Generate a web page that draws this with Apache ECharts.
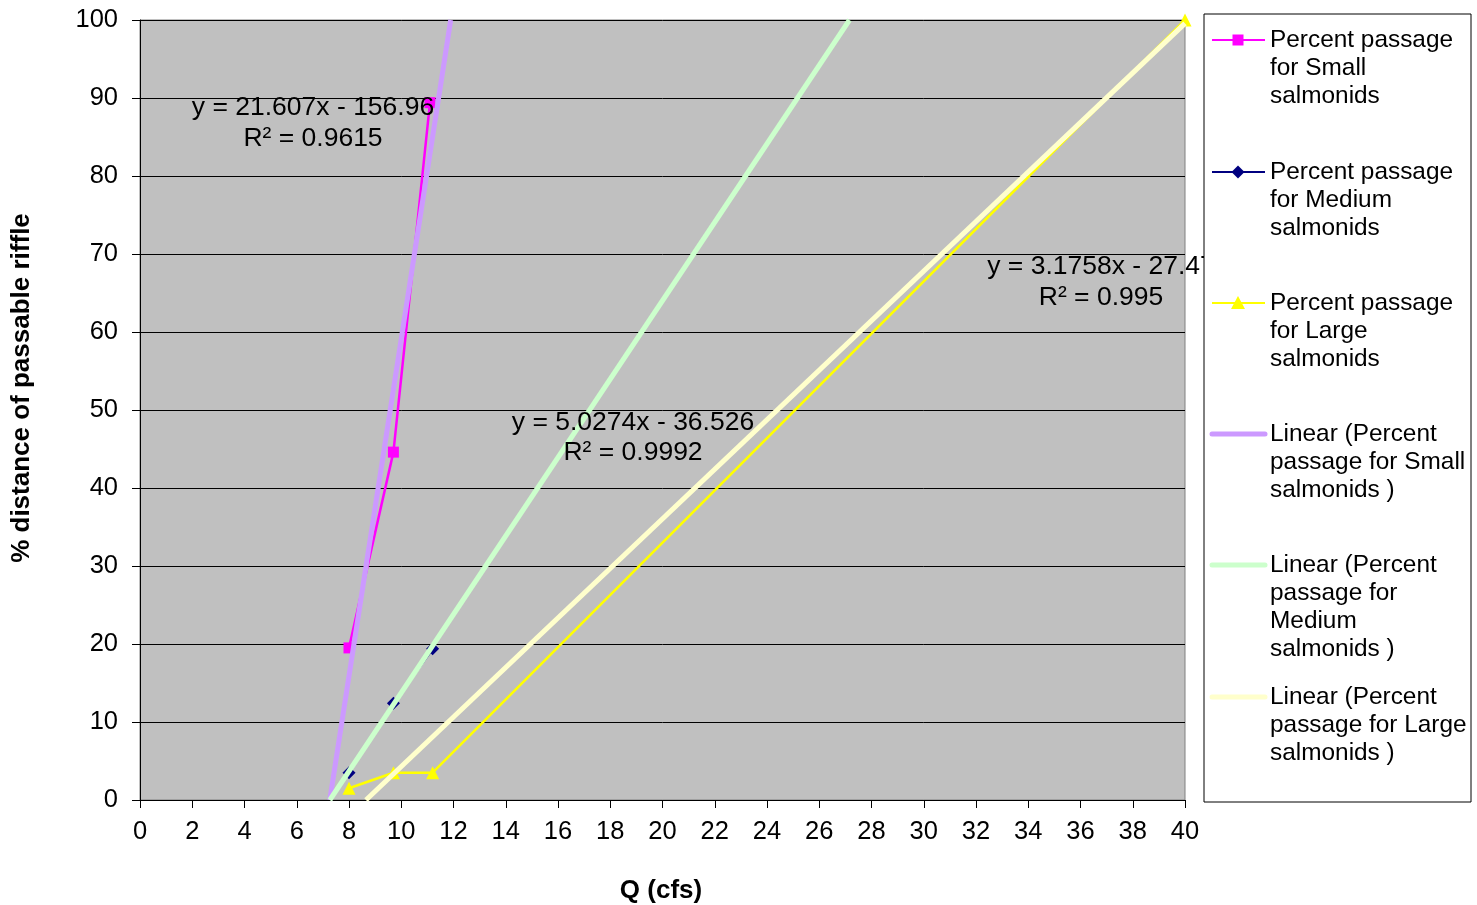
<!DOCTYPE html>
<html>
<head>
<meta charset="utf-8">
<script src="https://cdn.jsdelivr.net/npm/echarts@6/dist/echarts.min.js"></script>
<style>
html,body{margin:0;padding:0;background:#fff;}
#chart{width:1477px;height:905px;}
</style>
</head>
<body>
<div id="chart"></div>
<script>
// ---- data ----
const xTicks = [0,2,4,6,8,10,12,14,16,18,20,22,24,26,28,30,32,34,36,38,40];
const yTicks = [0,10,20,30,40,50,60,70,80,90,100];
const smallQ = [8.0, 9.7, 11.1];
const smallPct = [19.5, 44.6, 89.4];
const mediumQ = [8.0, 9.7, 11.2];
const mediumPct = [3.5, 12.4, 19.4];
const largeQ = [8.0, 9.7, 11.2, 40];
const largePct = [1.5, 3.5, 3.5, 100];
// trendline coefficients as printed on the chart (y = a*x + b)
const trendSlope = [21.607, 5.0274, 3.1758];
const trendIntercept = [-156.96, -36.526, -27.47];
const trendR2 = ['0.9615', '0.9992', '0.995'];
const seriesNames = ['Percent passage for Small salmonids', 'Percent passage for Medium salmonids', 'Percent passage for Large salmonids'];

const FONT = 'Liberation Sans, Arial, sans-serif';
const xMin = 0, xMax = 40, yMin = 0, yMax = 100;

function pairs(xs, ys){ return xs.map((x,i)=>[x, ys[i]]); }
function trend(i){
  const a = trendSlope[i], b = trendIntercept[i];
  let x0 = (yMin - b)/a, x1 = (yMax - b)/a;
  if (x1 > xMax) x1 = xMax;
  return [[x0, a*x0+b],[x1, a*x1+b]];
}

const chart = echarts.init(document.getElementById('chart'));
const dataColors = ['#FF00FF', '#000080', '#FFFF00'];
const symbols = ['rect', 'diamond', 'triangle'];
const symSizes = [11, 13, 13];
const trendColors = ['#CC99FF', '#CCFFCC', '#FFFFCC'];
const dataSets = [pairs(smallQ, smallPct), pairs(mediumQ, mediumPct), pairs(largeQ, largePct)];

const series = [];
for (let i = 0; i < 3; i++) {
  series.push({
    name: seriesNames[i], type: 'line', data: dataSets[i],
    symbol: symbols[i], symbolSize: symSizes[i], showAllSymbol: true,
    clip: false,
    lineStyle: {color: dataColors[i], width: 2.5},
    itemStyle: {color: dataColors[i]},
    z: 2, animation: false
  });
}
for (let i = 0; i < 3; i++) {
  series.push({
    name: 'Linear (' + seriesNames[i] + ' )', type: 'line', data: trend(i),
    symbol: 'none', lineStyle: {color: trendColors[i], width: 5},
    z: 3, animation: false
  });
}

// legend drawn as graphic
const legendX = 1204, legendY = 14, legendW = 267, legendH = 788;
const entryY = [40, 172, 303, 434, 565, 697];
const legendTexts = [
  'Percent passage\nfor Small\nsalmonids',
  'Percent passage\nfor Medium\nsalmonids',
  'Percent passage\nfor Large\nsalmonids',
  'Linear (Percent\npassage for Small\nsalmonids )',
  'Linear (Percent\npassage for\nMedium\nsalmonids )',
  'Linear (Percent\npassage for Large\nsalmonids )'
];
const graphics = [];
// annotations (drawn before legend so legend box covers overflow)
const ann = [
  {x: 313, y: 108, t: 'y = 21.607x - 156.96'}, {x: 313, y: 139, t: 'R\u00b2 = ' + trendR2[0]},
  {x: 633, y: 423, t: 'y = 5.0274x - 36.526'}, {x: 633, y: 453, t: 'R\u00b2 = ' + trendR2[1]},
  {x: 1101, y: 267, t: 'y = 3.1758x - 27.47'}, {x: 1101, y: 298, t: 'R\u00b2 = ' + trendR2[2]}
];
ann.forEach(a => graphics.push({type: 'text', x: a.x, y: a.y, z: 10,
  style: {text: a.t, font: '26.5px ' + FONT, fill: '#000', align: 'center', verticalAlign: 'middle'}}));
graphics.push({type: 'rect', shape: {x: legendX, y: legendY, width: legendW, height: legendH}, z: 20,
  style: {fill: '#fff', stroke: '#000', lineWidth: 1}});
for (let i = 0; i < 6; i++) {
  const y = entryY[i];
  const col = i < 3 ? dataColors[i] : trendColors[i-3];
  graphics.push({type: 'line', shape: {x1: 1212, y1: y, x2: 1265, y2: y}, z: 21,
    style: {stroke: col, lineWidth: i < 3 ? 2 : 5, lineCap: i < 3 ? 'butt' : 'round'}});
  if (i === 0) graphics.push({type: 'rect', shape: {x: 1232.5, y: y-5.5, width: 11, height: 11}, z: 22, style: {fill: col}});
  if (i === 1) graphics.push({type: 'polygon', shape: {points: [[1238,y-6.5],[1244.5,y],[1238,y+6.5],[1231.5,y]]}, z: 22, style: {fill: col}});
  if (i === 2) graphics.push({type: 'polygon', shape: {points: [[1238,y-7],[1245,y+6],[1231,y+6]]}, z: 22, style: {fill: col}});
  graphics.push({type: 'text', x: 1270, y: y - 14, z: 22,
    style: {text: legendTexts[i], font: '24.4px ' + FONT, fill: '#000', lineHeight: 28, verticalAlign: 'top'}});
}
// axis titles
graphics.push({type: 'text', x: 22, y: 388, rotation: Math.PI/2, z: 10,
  style: {text: '% distance of passable riffle', font: 'bold 26px ' + FONT, fill: '#000', align: 'center', verticalAlign: 'middle'}});
graphics.push({type: 'text', x: 661, y: 891, z: 10,
  style: {text: 'Q (cfs)', font: 'bold 26px ' + FONT, fill: '#000', align: 'center', verticalAlign: 'middle'}});

chart.setOption({
  animation: false,
  backgroundColor: '#fff',
  grid: {left: 140, right: 292, top: 20, bottom: 105, show: true, backgroundColor: '#C0C0C0', borderColor: '#808080', borderWidth: 1},
  xAxis: {
    type: 'value', min: xMin, max: xMax, interval: 2,
    axisLine: {show: true, onZero: false, lineStyle: {color: '#000', width: 1}},
    axisTick: {show: true, inside: false, length: 8, lineStyle: {color: '#000'}},
    axisLabel: {fontFamily: FONT, fontSize: 25.5, color: '#000', margin: 19,
      formatter: v => xTicks.indexOf(v) >= 0 ? String(v) : ''},
    splitLine: {show: false}
  },
  yAxis: {
    type: 'value', min: yMin, max: yMax, interval: 10,
    axisLine: {show: true, onZero: false, lineStyle: {color: '#000', width: 1}},
    axisTick: {show: true, inside: false, length: 8, lineStyle: {color: '#000'}},
    axisLabel: {fontFamily: FONT, fontSize: 25.5, color: '#000', margin: 22,
      formatter: v => yTicks.indexOf(v) >= 0 ? String(v) : ''},
    splitLine: {show: true, lineStyle: {color: '#000', width: 1}}
  },
  series: series,
  graphic: graphics
});
</script>
</body>
</html>
